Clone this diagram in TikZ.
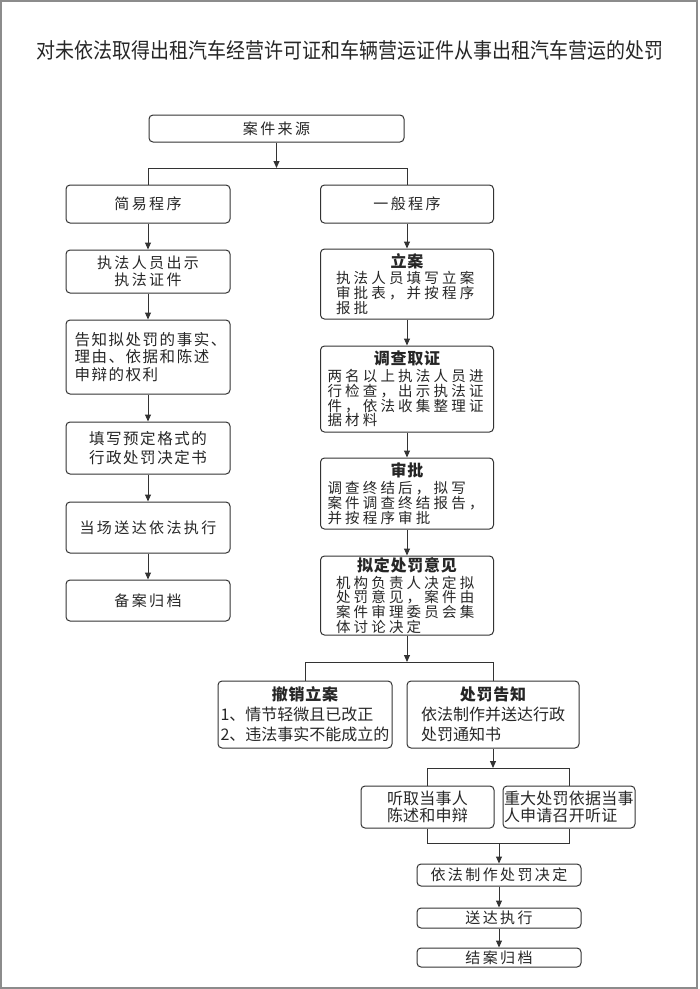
\documentclass[tikz,border=0pt]{standalone}
\usepackage{fontspec}
\setmainfont{Noto Sans CJK SC}
\newfontfamily\fT{Noto Sans CJK SC}
\newfontfamily\fA[LetterSpace=16]{Noto Sans CJK SC}
\newfontfamily\fL[LetterSpace=10]{Noto Sans CJK SC}
\newfontfamily\fR[LetterSpace=22]{Noto Sans CJK SC}
\newfontfamily\fRb[LetterSpace=5]{Noto Sans CJK SC}
\newfontfamily\fM[LetterSpace=1.5]{Noto Sans CJK SC}
\usetikzlibrary{arrows.meta}
\newcommand{\rtitle}[1]{\makebox[\hsize]{\fRb\bfseries\fontsize{16}{16}\selectfont #1}}
\begin{document}
\begin{tikzpicture}[x=1pt,y=-1pt,
  box/.style={draw=black!80, line width=1pt, rounded corners=4pt, inner sep=0pt, text=black!85},
  topfont/.style={font=\fA\fontsize{15}{17}\selectfont},
  leftfont/.style={font=\fL\fontsize{15.5}{17.5}\selectfont},
  rightfont/.style={font=\fR\fontsize{14.5}{14.8}\selectfont},
  midfont/.style={font=\fT\fontsize{16}{20}\selectfont},
  lowfont/.style={font=\fM\fontsize{16}{17}\selectfont},
  conn/.style={draw=black!80, line width=1pt},
  arr/.style={conn, -{Triangle[length=7pt,width=6pt]}}]
\useasboundingbox (0,0) rectangle (700,989);
\draw[black!45, line width=1.5pt] (1,1) rectangle (697,988);
\node[text=black!85, font=\fT\fontsize{19}{22}\selectfont] (title) at (350,50) {\scalebox{1}[1.12]{对未依法取得出租汽车经营许可证和车辆营运证件从事出租汽车营运的处罚}};
% top
\node[box, topfont, minimum width=255pt, minimum height=27pt] (src) at (276.5,128.5) {案件来源};
\node[box, topfont, minimum width=164pt, minimum height=38pt] (simple) at (148,204) {简易程序};
\node[box, topfont, minimum width=173pt, minimum height=38pt] (general) at (407,204) {一般程序};
% left column
\node[box, topfont, minimum width=164pt, minimum height=43pt, align=center] (L1) at (148,271.5) {执法人员出示\\执法证件};
\node[box, leftfont, minimum width=164pt, minimum height=74pt, text width=147pt, align=left] (L2) at (148,357) {告知拟处罚的事实、\\理由、依据和陈述\\申辩的权利};
\node[box, leftfont, font=\fL\fontsize{15.5}{19}\selectfont, minimum width=164pt, minimum height=52pt, align=center] (L3) at (148,448) {填写预定格式的\\行政处罚决定书};
\node[box, topfont, minimum width=164pt, minimum height=51pt] (L4) at (148,527.5) {当场送达依法执行};
\node[box, topfont, minimum width=164pt, minimum height=41pt] (L5) at (148,600.5) {备案归档};
% right column
\node[box, rightfont, minimum width=173pt, minimum height=70pt, text width=142pt, align=left] (R1) at (407,284) {\rtitle{立案}\\[2pt]执法人员填写立案\\审批表，并按程序\\报批};
\node[box, rightfont, minimum width=173pt, minimum height=86pt, text width=159pt, align=left] (R2) at (407,389) {\rtitle{调查取证}\\[2pt]两名以上执法人员进\\行检查，出示执法证\\件，依法收集整理证\\据材料};
\node[box, rightfont, minimum width=173pt, minimum height=71pt, text width=159pt, align=left] (R3) at (407,493.5) {\rtitle{审批}\\[2pt]调查终结后，拟写\\案件调查终结报告，\\并按程序审批};
\node[box, rightfont, minimum width=173pt, minimum height=79pt, text width=142pt, align=left] (R4) at (407,595.5) {\rtitle{拟定处罚意见}\\[2pt]机构负责人决定拟\\处罚意见，案件由\\案件审理委员会集\\体讨论决定};
% split
\node[box, midfont, minimum width=174pt, minimum height=67pt, text width=169pt, align=left] (cancel) at (305,714.5) {\rtitle{撤销立案}\\1、情节轻微且已改正\\2、违法事实不能成立的};
\node[box, midfont, minimum width=172pt, minimum height=67pt, text width=144pt, align=left] (notify) at (493,714.5) {\rtitle{处罚告知}\\依法制作并送达行政\\处罚通知书};
\node[box, lowfont, minimum width=133pt, minimum height=42pt, align=center] (hear) at (427.5,807) {听取当事人\\陈述和申辩};
\node[box, lowfont, minimum width=132pt, minimum height=42pt, text width=130pt, align=left] (hearing) at (569,807) {重大处罚依据当事\\人申请召开听证};
\node[box, topfont, minimum width=164pt, minimum height=22pt] (decide) at (499,875) {依法制作处罚决定};
\node[box, topfont, minimum width=164pt, minimum height=20pt] (deliver) at (499,918) {送达执行};
\node[box, topfont, minimum width=164pt, minimum height=19pt] (archive) at (499,957.5) {结案归档};
% junction coordinates
\coordinate (j1) at (276.5,168);
\coordinate (jL) at (148,168);
\coordinate (jR) at (407,168);
\coordinate (j2) at (407,662);
\coordinate (jC) at (305,662);
\coordinate (jN) at (493,662);
\coordinate (j3) at (493,768);
\coordinate (jH) at (427.5,768);
\coordinate (jG) at (569,768);
\coordinate (kH) at (427.5,843);
\coordinate (kG) at (569,843);
\coordinate (k) at (499,843);
% connectors
\draw[arr] (src) -- (j1);
\draw[conn] (simple.north) -- (jL) -- (jR) -- (general.north);
\draw[arr] (simple) -- (L1);
\draw[arr] (L1) -- (L2);
\draw[arr] (L2) -- (L3);
\draw[arr] (L3) -- (L4);
\draw[arr] (L4) -- (L5);
\draw[arr] (general) -- (R1);
\draw[arr] (R1) -- (R2);
\draw[arr] (R2) -- (R3);
\draw[arr] (R3) -- (R4);
\draw[arr] (R4) -- (j2);
\draw[conn] (cancel.north) -- (jC) -- (jN) -- (notify.north);
\draw[arr] (notify) -- (j3);
\draw[conn] (hear.north) -- (jH) -- (jG) -- (hearing.north);
\draw[conn] (hear.south) -- (kH) -- (kG) -- (hearing.south);
\draw[arr] (k) -- (decide);
\draw[arr] (decide) -- (deliver);
\draw[arr] (deliver) -- (archive);
\end{tikzpicture}
\end{document}
